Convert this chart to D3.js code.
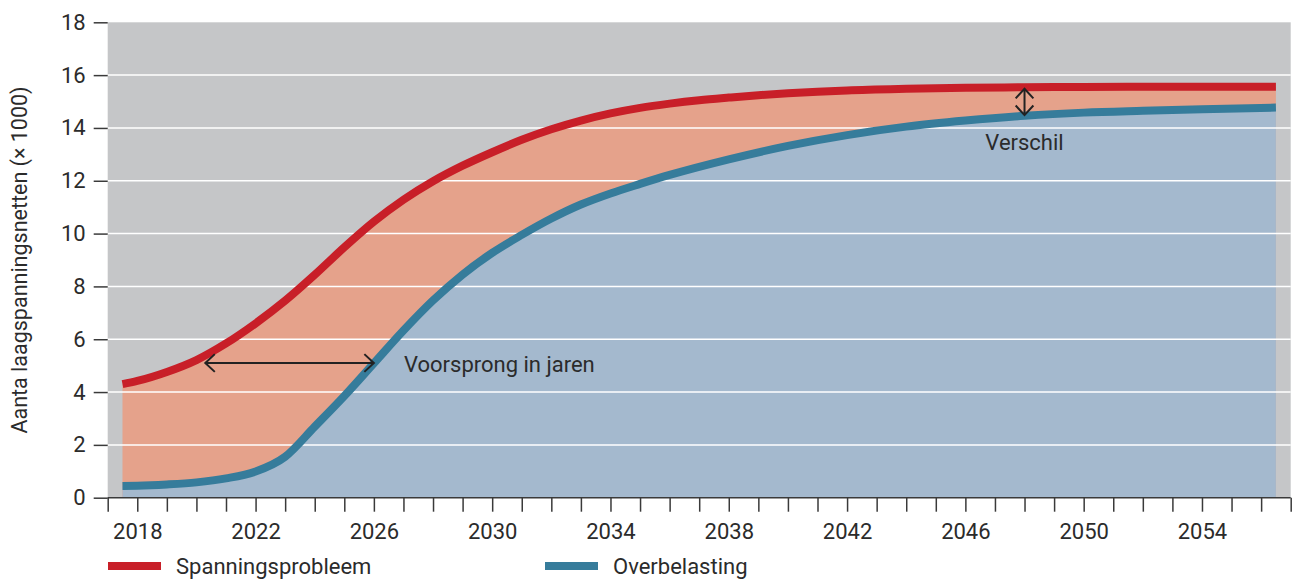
<!DOCTYPE html>
<html>
<head>
<meta charset="utf-8">
<script src="https://cdn.jsdelivr.net/npm/d3@7"></script>
<style>
  html, body { margin: 0; padding: 0; background: #fff; }
  svg { display: block; font-family: Roboto, "Noto Sans", sans-serif; }
</style>
</head>
<body>
<svg id="chart" width="1293" height="579"></svg>
<script>
// ---- data ----
const redYears = [2017.5, 2018, 2019, 2020, 2021, 2022, 2023, 2024, 2025, 2026, 2027, 2028, 2029, 2030, 2031, 2032, 2033, 2034, 2035, 2036, 2037, 2038, 2039, 2040, 2041, 2042, 2044, 2046, 2048, 2050, 2052, 2054, 2056.5];
const redValues = [4.30, 4.42, 4.76, 5.21, 5.84, 6.60, 7.46, 8.44, 9.48, 10.45, 11.28, 11.98, 12.57, 13.08, 13.55, 13.95, 14.28, 14.55, 14.76, 14.92, 15.05, 15.15, 15.24, 15.31, 15.37, 15.42, 15.48, 15.52, 15.54, 15.55, 15.56, 15.56, 15.56];
const blueYears = [2017.5, 2018, 2019, 2020, 2021, 2022, 2023, 2024, 2025, 2026, 2027, 2028, 2029, 2030, 2031, 2032, 2033, 2034, 2035, 2036, 2038, 2040, 2042, 2044, 2046, 2048, 2050, 2052, 2054, 2056.5];
const blueValues = [0.44, 0.45, 0.50, 0.58, 0.73, 0.99, 1.55, 2.69, 3.85, 5.09, 6.33, 7.47, 8.45, 9.27, 9.95, 10.57, 11.10, 11.52, 11.88, 12.22, 12.81, 13.32, 13.73, 14.05, 14.28, 14.46, 14.58, 14.65, 14.71, 14.77];
const yTicks = [0, 2, 4, 6, 8, 10, 12, 14, 16, 18];
const xLabelYears = [2018, 2022, 2026, 2030, 2034, 2038, 2042, 2046, 2050, 2054];
const seriesNames = ["Spanningsprobleem", "Overbelasting"];
const yTitle = "Aanta laagspanningsnetten (× 1000)";
const leadLabel = "Voorsprong in jaren";
const leadFrom = 2020.3, leadTo = 2026.0, leadValue = 5.1;
const diffLabel = "Verschil";
const diffYear = 2048.0;

// ---- layout ----
const svg = d3.select("#chart");
const X0 = 107.7, X1 = 1290.7, Y0 = 497.7, Y1 = 22.3;
const x = d3.scaleLinear().domain([2017, 2057]).range([X0, X1]);
const y = d3.scaleLinear().domain([0, 18]).range([Y0, Y1]);

const red = redYears.map((d, i) => ({ x: d, y: redValues[i] }));
const blue = blueYears.map((d, i) => ({ x: d, y: blueValues[i] }));

const colors = {
  bg: "#c5c6c8", orange: "#e5a28b", blueFill: "#a4b9ce",
  red: "#c81f28", blue: "#367c9b", text: "#2b2b2b", axis: "#3a3a3a"
};

// background
svg.append("rect").attr("x", X0).attr("y", Y1).attr("width", X1 - X0).attr("height", Y0 - Y1).attr("fill", colors.bg);

const curve = d3.curveMonotoneX;
const area = d3.area().x(d => x(d.x)).y0(y(0)).y1(d => y(d.y)).curve(curve);
const line = d3.line().x(d => x(d.x)).y(d => y(d.y)).curve(curve);

svg.append("path").datum(red).attr("d", area).attr("fill", colors.orange);
svg.append("path").datum(blue).attr("d", area).attr("fill", colors.blueFill);

// gridlines
svg.append("g").selectAll("line").data(yTicks.filter(t => t > 0 && t < 18)).join("line")
  .attr("x1", X0).attr("x2", X1).attr("y1", d => y(d)).attr("y2", d => y(d))
  .attr("stroke", "#ffffff").attr("stroke-width", 1.5);

// lines
svg.append("path").datum(red).attr("d", line).attr("fill", "none").attr("stroke", colors.red).attr("stroke-width", 8);
svg.append("path").datum(blue).attr("d", line).attr("fill", "none").attr("stroke", colors.blue).attr("stroke-width", 8);

// y axis
const yAxis = svg.append("g").attr("transform", `translate(${X0},0)`)
  .call(d3.axisLeft(y).tickValues(yTicks).tickSize(14).tickPadding(8).tickFormat(d3.format("d")));
yAxis.select(".domain").remove();
yAxis.selectAll(".tick line").attr("stroke", colors.axis).attr("stroke-width", 1.5);
yAxis.selectAll(".tick text").attr("fill", colors.text).style("font-size", "22px").style("font-family", "Roboto");

// x axis
const allYears = d3.range(2017, 2058);
const xAxis = svg.append("g").attr("transform", `translate(0,${Y0})`)
  .call(d3.axisBottom(x).tickValues(allYears).tickSize(14).tickPadding(12)
    .tickFormat(d => xLabelYears.includes(d) ? String(d) : ""));
xAxis.select(".domain").attr("stroke", colors.axis).attr("stroke-width", 1.5).attr("d", `M${X0},0H${X1}`);
xAxis.selectAll(".tick line").attr("stroke", colors.axis).attr("stroke-width", 1.5);
xAxis.selectAll(".tick text").attr("fill", colors.text).style("font-size", "22px").style("font-family", "Roboto");

// y title
svg.append("text").attr("transform", `translate(27,${260}) rotate(-90)`)
  .attr("text-anchor", "middle").attr("fill", colors.text).style("font-size", "21.5px").text(yTitle);

// arrow helpers
function chevron(g, px, py, dir) {
  const a = dir * Math.PI / 180, L = 13, s = 0.75;
  const p1 = [px - L * Math.cos(a - s), py - L * Math.sin(a - s)];
  const p2 = [px - L * Math.cos(a + s), py - L * Math.sin(a + s)];
  g.append("path").attr("d", `M${p1[0]},${p1[1]}L${px},${py}L${p2[0]},${p2[1]}`)
    .attr("fill", "none").attr("stroke", "#222").attr("stroke-width", 2);
}
const ann = svg.append("g");
const ly = y(leadValue);
ann.append("line").attr("x1", x(leadFrom)).attr("x2", x(leadTo)).attr("y1", ly).attr("y2", ly).attr("stroke", "#222").attr("stroke-width", 2);
chevron(ann, x(leadFrom), ly, 180);
chevron(ann, x(leadTo), ly, 0);
ann.append("text").attr("x", 404).attr("y", ly + 9).attr("fill", colors.text).style("font-size", "22px").text(leadLabel);

const dx = x(diffYear);
const dTop = y(15.52) + 1, dBot = y(14.45) - 1;
ann.append("line").attr("x1", dx).attr("x2", dx).attr("y1", dTop).attr("y2", dBot).attr("stroke", "#222").attr("stroke-width", 2);
chevron(ann, dx, dTop, -90);
chevron(ann, dx, dBot, 90);
ann.append("text").attr("x", dx).attr("y", 150).attr("text-anchor", "middle").attr("fill", colors.text).style("font-size", "22px").text(diffLabel);

// legend
const legend = svg.append("g");
const legendItems = [
  { name: seriesNames[0], color: colors.red, x0: 108 },
  { name: seriesNames[1], color: colors.blue, x0: 545 }
];
legendItems.forEach(it => {
  legend.append("rect").attr("x", it.x0).attr("y", 562).attr("width", 53).attr("height", 8).attr("fill", it.color);
  legend.append("text").attr("x", it.x0 + 68).attr("y", 574).attr("fill", colors.text).style("font-size", "22px").text(it.name);
});
</script>
</body>
</html>
